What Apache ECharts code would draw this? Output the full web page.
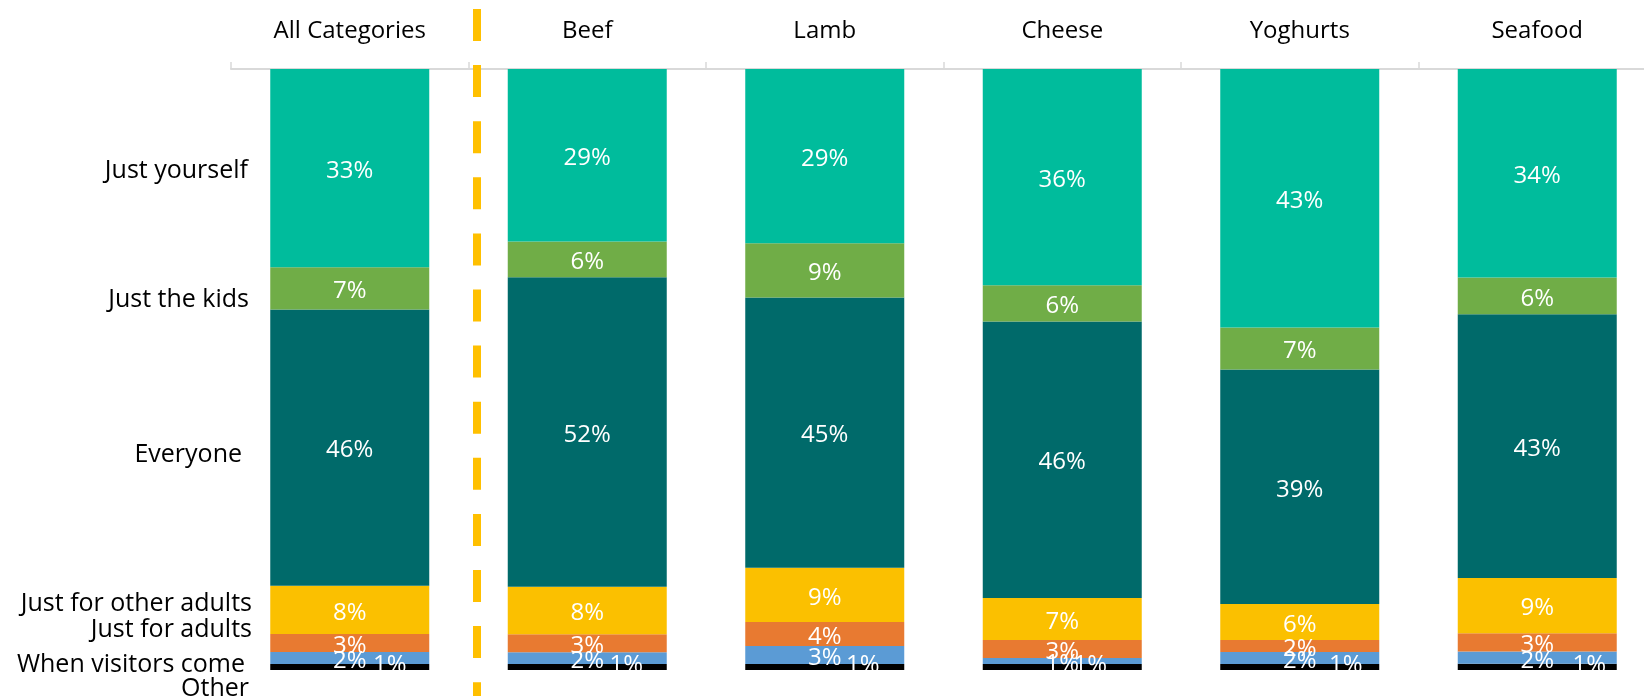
<!DOCTYPE html>
<html>
<head>
<meta charset="utf-8">
<title>Who is it for?</title>
<script src="https://cdn.jsdelivr.net/npm/echarts@6/dist/echarts.min.js"></script>
<style>
  html, body { margin: 0; padding: 0; background: #ffffff; overflow: hidden; }
  /* the last column runs slightly past the right edge of the window */
  #chart { width: 1660px; height: 696px; }
</style>
</head>
<body>
<div id="chart"></div>
<script>
// Categories along the top axis
const categories = ['All Categories', 'Beef', 'Lamb', 'Cheese', 'Yoghurts', 'Seafood'];

// Share of purchases by who the product is for (%)
const justYourself       = [33, 29, 29, 36, 43, 34];
const justTheKids        = [7, 6, 9, 6, 7, 6];
const everyone           = [46, 52, 45, 46, 39, 43];
const justForOtherAdults = [8, 8, 9, 7, 6, 9];
const justForAdults      = [3, 3, 4, 3, 2, 3];
const whenVisitorsCome   = [2, 2, 3, 1, 2, 2];
const other              = [1, 1, 1, 1, 1, 1];

const seriesNames = ['Just yourself', 'Just the kids', 'Everyone', 'Just for other adults',
                     'Just for adults', 'When visitors come', 'Other'];

// ---- styling / layout ----
const FONT = 'Open Sans';
const colors = {
  'Just yourself': '#00BC9C',
  'Just the kids': '#70AD47',
  'Everyone': '#006A6A',
  'Just for other adults': '#FBC000',
  'Just for adults': '#E87A31',
  'When visitors come': '#5B9BD5',
  'Other': '#000000'
};
// horizontal nudge of the "Other" labels so they sit beside the thin black band
const otherLabelShift = [40, 39, 38, 28, 46, 52];
// row captions on the left: right edge x and vertical centre y (px)
const captionX = [248, 249, 242, 252, 252, 245, 249];
const captionY = [171, 300, 455, 604, 630, 665, 689];

const GRID = { left: 231, top: 69, width: 1425, height: 601 };

// every bar is scaled to 100% of its column (100% stacked)
const rows = [justYourself, justTheKids, everyone, justForOtherAdults, justForAdults, whenVisitorsCome, other];
const totals = categories.map((_, i) => rows.reduce((s, r) => s + r[i], 0));

function buildSeries(name, values) {
  const isOther = name === 'Other';
  return {
    name: name,
    type: 'bar',
    stack: 'share',
    barWidth: 159,
    itemStyle: { color: colors[name] },
    label: {
      show: true,
      position: 'inside',
      offset: [0, 3],
      color: '#ffffff',
      fontFamily: FONT,
      fontSize: 24,
      formatter: p => p.data.raw + '%'
    },
    data: values.map((v, i) => {
      const item = { value: v / totals[i] * 100, raw: v };
      if (isOther) item.label = { offset: [otherLabelShift[i], -2] };
      return item;
    })
  };
}

// stacked from the bottom: "Other" first, "Just yourself" on top
const stackOrder = [
  ['Other', other],
  ['When visitors come', whenVisitorsCome],
  ['Just for adults', justForAdults],
  ['Just for other adults', justForOtherAdults],
  ['Everyone', everyone],
  ['Just the kids', justTheKids],
  ['Just yourself', justYourself]
];

const chart = echarts.init(document.getElementById('chart'), null, { renderer: 'canvas' });

const captions = seriesNames.map((n, i) => ({
  type: 'text',
  z: 100,
  style: {
    text: n,
    x: captionX[i],
    y: captionY[i],
    align: 'right',
    verticalAlign: 'middle',
    fill: '#000000',
    font: '25px "' + FONT + '"'
  }
}));

chart.setOption({
  animation: false,
  backgroundColor: '#ffffff',
  grid: GRID,
  xAxis: {
    type: 'category',
    position: 'top',
    data: categories,
    axisLine: { show: true, onZero: false, lineStyle: { color: '#D9D9D9', width: 2 } },
    axisTick: { show: true, length: 7, lineStyle: { color: '#D9D9D9', width: 1.5 } },
    axisLabel: { color: '#000000', fontFamily: FONT, fontSize: 24, margin: 26 }
  },
  yAxis: {
    type: 'value',
    min: 0,
    max: 100,
    show: false,
    splitLine: { show: false }
  },
  series: stackOrder.map(([n, v]) => buildSeries(n, v)),
  graphic: [
    // labels below the plot area are cut off at its lower edge
    {
      type: 'rect', z: 90, silent: true,
      shape: { x: 262, y: 674, width: 1400, height: 22 },
      style: { fill: '#ffffff' }
    },
    // dashed divider between the total and the individual categories
    {
      type: 'line', z: 95, silent: true,
      shape: { x1: 477, y1: 9, x2: 477, y2: 696 },
      style: { stroke: '#FFC000', lineWidth: 8, lineDash: [32, 24.1], lineCap: 'butt' }
    }
  ].concat(captions)
});
</script>
</body>
</html>
